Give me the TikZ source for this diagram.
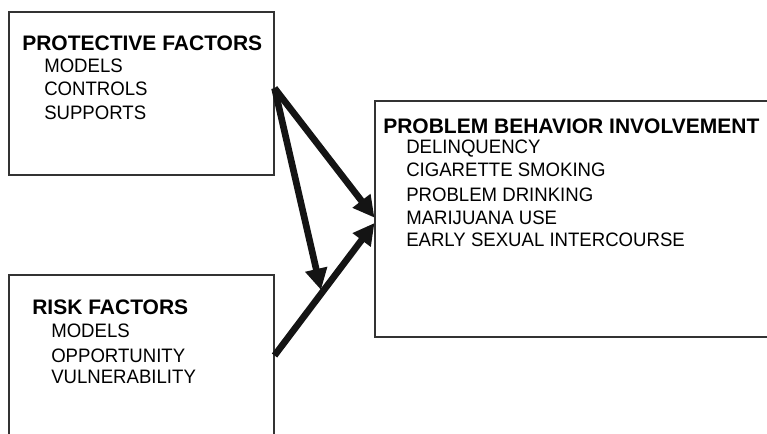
\documentclass[tikz,border=0pt]{standalone}
\usepackage{fontspec}
\setmainfont{Liberation Sans}
\newfontfamily\itemfont[FakeStretch=0.955]{Liberation Sans}
\usetikzlibrary{arrows.meta}

\tikzset{
  factorbox/.style={draw=black!80,line width=0.8pt,inner sep=0,rectangle},
  heading/.style={anchor=base west,inner sep=0,font=\fontsize{15.75}{18}\selectfont\bfseries},
  item/.style={anchor=base west,inner sep=0,font=\itemfont\fontsize{14.6}{17}\selectfont},
  effect/.style={black!92,line width=5pt,-{Triangle[length=16pt,width=16pt]}}
}

\begin{document}
\begin{tikzpicture}[x=0.75pt,y=-0.75pt]

\useasboundingbox (0,0) rectangle (767,433);

\begin{scope}

\clip (0,0) rectangle (767,433);

\node [factorbox,minimum width=198.75pt,minimum height=122.25pt] (prot) at (141.5,93.5) {};
\node [factorbox,minimum width=198.75pt,minimum height=120.75pt] (risk) at (141.5,355.5) {};
\node [factorbox,minimum width=318.75pt,minimum height=177pt] (prob) at (587.5,219) {};

\node [heading] (prottitle) at (22,50) {PROTECTIVE FACTORS};
\node [item] (protmodels) at (44,72) {MODELS};
\node [item] (protcontrols) at (44,95) {CONTROLS};
\node [item] (protsupports) at (44,119) {SUPPORTS};

\node [heading] (risktitle) at (32,314) {RISK FACTORS};
\node [item] (riskmodels) at (51,337) {MODELS};
\node [item] (riskopport) at (51,362) {OPPORTUNITY};
\node [item] (riskvulner) at (51,383) {VULNERABILITY};

\node [heading] (probtitle) at (383,133) {PROBLEM BEHAVIOR INVOLVEMENT};
\node [item] (probdelinq) at (406,153) {DELINQUENCY};
\node [item] (probsmoke) at (406,176) {CIGARETTE SMOKING};
\node [item] (probdrink) at (406,201) {PROBLEM DRINKING};
\node [item] (probmarij) at (406,224) {MARIJUANA USE};
\node [item] (probsex) at (406,246) {EARLY SEXUAL INTERCOURSE};

\coordinate (moderate) at (321,290);

\draw [effect] ([yshift=4pt]prot.east) -- ([yshift=1pt]prob.west);
\draw [effect] ([yshift=4pt]prot.east) -- (moderate);
\draw [effect] (risk.east) -- ([yshift=-3pt]prob.west);

\end{scope}

\end{tikzpicture}
\end{document}
